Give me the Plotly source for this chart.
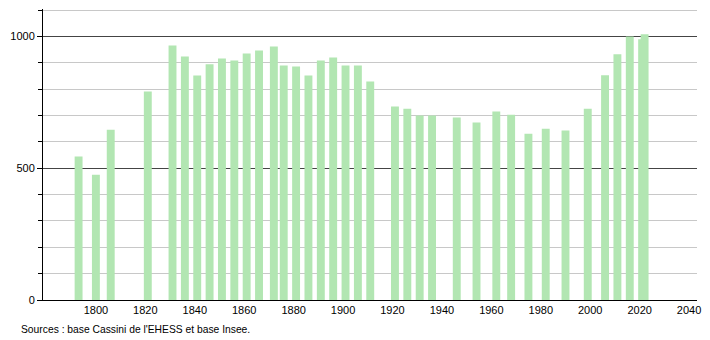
import plotly.graph_objects as go

years = [1793, 1800, 1806, 1821, 1831, 1836, 1841, 1846, 1851, 1856, 1861, 1866,
         1872, 1876, 1881, 1886, 1891, 1896, 1901, 1906, 1911, 1921, 1926, 1931,
         1936, 1946, 1954, 1962, 1968, 1975, 1982, 1990, 1999, 2006, 2011, 2016,
         2021, 2022]
population = [544, 475, 646, 791, 966, 924, 852, 894, 916, 909, 935, 947,
              962, 890, 886, 852, 909, 920, 890, 890, 829, 734, 726, 700,
              700, 692, 673, 715, 703, 631, 650, 643, 726, 853, 932, 1000,
              989, 1008]
x_ticks = [1800, 1820, 1840, 1860, 1880, 1900, 1920, 1940, 1960, 1980, 2000, 2020, 2040]
y_ticks = [0, 500, 1000]
source_text = "Sources : base Cassini de l'EHESS et base Insee."

fig = go.Figure()
fig.add_trace(go.Bar(x=years, y=population, width=3.2,
                     marker=dict(color="#b2e6b2", line=dict(width=0)),
                     hoverinfo="x+y"))

fig.update_layout(
    width=710, height=340,
    margin=dict(l=43, r=9, t=9, b=40),
    paper_bgcolor="white", plot_bgcolor="white",
    font=dict(family="Liberation Sans, Arial, sans-serif", size=11, color="#000"),
    showlegend=False, barmode="overlay",
    xaxis=dict(range=[1778.6, 2043.2], tickvals=x_ticks, ticktext=[str(v) for v in x_ticks],
               showgrid=False, showline=True, linecolor="#000", linewidth=1,
               ticks="", zeroline=False, tickfont=dict(size=11)),
    yaxis=dict(range=[0, 1104], tickvals=y_ticks, ticktext=[str(v) for v in y_ticks],
               showgrid=True, gridcolor="#444", gridwidth=1,
               showline=True, linecolor="#000", linewidth=1,
               ticks="outside", ticklen=5, tickcolor="#000",
               minor=dict(dtick=100, showgrid=True, gridcolor="#c8c8c8", gridwidth=1,
                          ticks="outside", ticklen=4, tickcolor="#000"),
               zeroline=False, tickfont=dict(size=11)),
    annotations=[dict(text=source_text, xref="paper", yref="paper",
                      x=-0.036, y=-0.075, xanchor="left", yanchor="top",
                      showarrow=False, font=dict(size=10.3))],
)

fig.write_html("out.html")
